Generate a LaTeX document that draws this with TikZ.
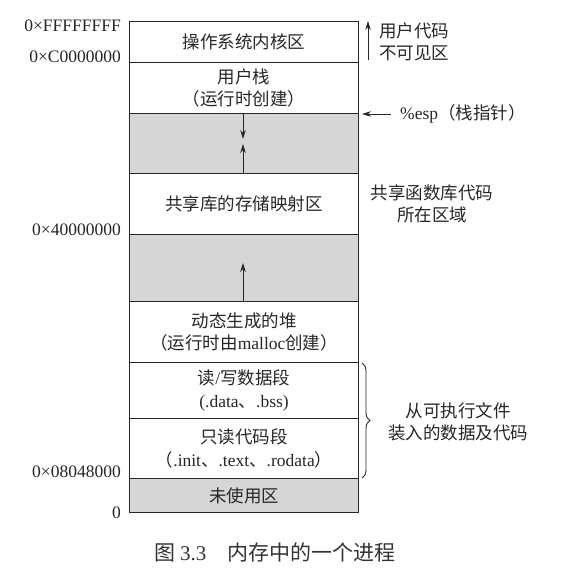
\documentclass[tikz,border=0pt]{standalone}
\usepackage{fontspec}
\setmainfont{Liberation Serif}
\newfontfamily\cjk{Noto Sans CJK SC}
\usetikzlibrary{arrows.meta,decorations.pathreplacing}
\tikzset{
  region/.style={draw=black!85,line width=1.2pt,minimum width=229pt,inner sep=0pt,anchor=north west,align=center,font=\cjk\fontsize{17.5}{22.5}\selectfont,text=black!85},
  free/.style={region,fill=black!16},
  addr/.style={anchor=east,inner sep=0pt,font=\fontsize{17.5}{18}\selectfont,text=black!85},
  note/.style={inner sep=0pt,align=center,font=\cjk\fontsize{17.5}{22}\selectfont,text=black!85},
  arr/.style={draw=black!85,line width=0.9pt,-{Stealth[length=9pt,width=5.5pt]}}
}
\newcommand{\lt}[1]{{\rmfamily #1}}
\begin{document}
\begin{tikzpicture}[x=1pt,y=-1pt]
\useasboundingbox (0,0) rectangle (567,584);
\node[region,minimum height=41pt] (kernel) at (129,21) {操作系统内核区};
\node[region,minimum height=51pt] (stack) at (129,62) {用户栈\\（运行时创建）};
\node[free,minimum height=60pt] (gap1) at (129,113) {};
\node[region,minimum height=61pt] (shared) at (129,173) {共享库的存储映射区};
\node[free,minimum height=67pt] (gap2) at (129,234) {};
\node[region,minimum height=61pt] (heap) at (129,301) {动态生成的堆\\（运行时由\lt{malloc}创建）};
\node[region,minimum height=56pt] (rw) at (129,362) {读\lt{/}写数据段\\\lt{(.data}、\lt{.bss)}};
\node[region,minimum height=60pt] (ro) at (129,418) {只读代码段\\（\lt{.init}、\lt{.text}、\lt{.rodata}）};
\node[free,minimum height=34pt] (unused) at (129,478) {未使用区};

% addresses
\node[addr] (a1) at (121,26) {0×FFFFFFFF};
\node[addr] (a2) at (121,57) {0×C0000000};
\node[addr] (a3) at (121,230) {0×40000000};
\node[addr] (a4) at (121,472) {0×08048000};
\node[addr] (a5) at (121,513) {0};

% growth arrows
\coordinate (d1) at (243,139);
\coordinate (u1) at (243,144);
\coordinate (u2) at (243,263);
\draw[arr] (gap1.north -| d1) -- (d1);
\draw[arr] (gap1.south -| u1) -- (u1);
\draw[arr] (gap2.south -| u2) -- (u2);

% right annotations
\coordinate (k1) at (368,60);
\coordinate (k2) at (368,21);
\draw[arr] (k1) -- (k2);
\node[note,anchor=west] (invis) at (379,42) {用户代码\\不可见区};

\node[note,anchor=west] (esp) at (400,114) {\lt{\%esp}（栈指针）};
\coordinate (e1) at (362,114);
\draw[arr] (esp.west) ++(-9,0) -- (e1);

\node[note] (lib) at (432,204) {共享函数库代码\\所在区域};

\coordinate (b1) at (362,363);
\coordinate (b2) at (362,478);
\draw[draw=black!85,line width=0.9pt,decorate,decoration={brace,amplitude=8pt}] (b1) -- (b2);
\node[note] (load) at (458,422) {从可执行文件\\装入的数据及代码};

\node[inner sep=0pt,font=\cjk\fontsize{21}{22}\selectfont,text=black!80] (cap) at (275,552) {图 \lt{3.3}\quad 内存中的一个进程};
\end{tikzpicture}
\end{document}
